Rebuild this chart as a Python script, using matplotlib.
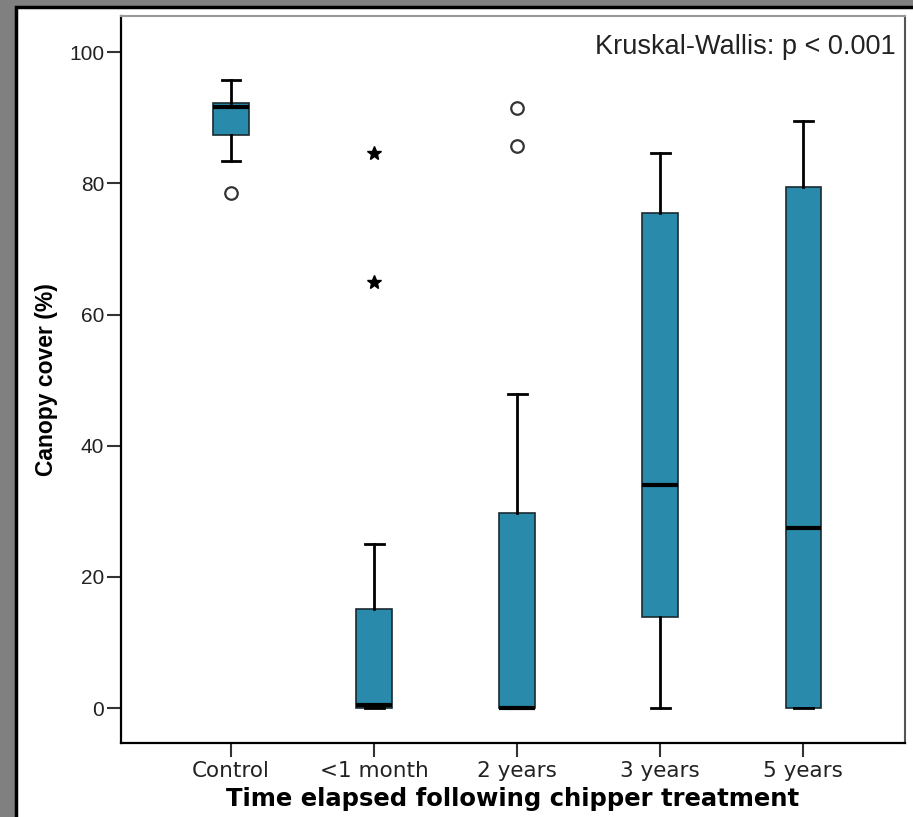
import matplotlib
matplotlib.use('Agg')
import matplotlib.pyplot as plt
from matplotlib.patches import Rectangle

groups = ['Control', '<1 month', '2 years', '3 years', '5 years']
whislo = [83.4, 0.0, 0.0, 0.0, 0.0]
q1 = [87.3, 0.0, 0.0, 13.9, 0.0]
med = [91.6, 0.5, 0.0, 34.0, 27.4]
q3 = [92.2, 15.1, 29.7, 75.5, 79.4]
whishi = [95.7, 25.0, 47.9, 84.6, 89.5]
# outliers (circles) and extremes (stars)
outliers = [[78.5], [], [91.5, 85.7], [], []]
extremes = [[], [84.6, 64.9], [], [], []]

box_color = '#2a8aac'

fig = plt.figure(figsize=(9.13, 8.17), dpi=100, facecolor='#808080')
# white panel with black frame
fig.patches.append(Rectangle((15.5 / 913, -0.01), 1.0, 1 - 7 / 817 + 0.01,
                             transform=fig.transFigure, facecolor='white',
                             edgecolor='black', linewidth=2.5, zorder=-5))

ax = fig.add_axes([121 / 913, 1 - 743 / 817, 784 / 913, 727 / 817])
ax.set_zorder(2)

stats = []
for i, g in enumerate(groups):
    stats.append({'label': g, 'whislo': whislo[i], 'q1': q1[i], 'med': med[i],
                  'q3': q3[i], 'whishi': whishi[i], 'fliers': outliers[i]})

ax.bxp(stats, positions=range(len(groups)), widths=0.25, capwidths=0.13,
       patch_artist=True, showfliers=True,
       boxprops=dict(facecolor=box_color, edgecolor='#1a2a30', linewidth=1.2),
       medianprops=dict(color='black', linewidth=3),
       whiskerprops=dict(color='black', linewidth=2),
       capprops=dict(color='black', linewidth=2),
       flierprops=dict(marker='o', markerfacecolor='white', markeredgecolor='#333333',
                       markersize=9, markeredgewidth=1.6))

for i, vals in enumerate(extremes):
    if vals:
        ax.plot([i] * len(vals), vals, linestyle='none', marker='*', color='black',
                markersize=10)

ax.set_xlim(-0.77, 4.71)
ax.set_ylim(-5.3, 105.5)
ax.set_yticks([0, 20, 40, 60, 80, 100])
ax.set_xticks(range(len(groups)))
ax.set_xticklabels(groups, fontsize=15.5, family='DejaVu Sans', color='#222222')
for t in ax.get_yticklabels():
    t.set_fontsize(15)
    t.set_family('Liberation Sans')
    t.set_color('#222222')
ax.tick_params(axis='y', length=10, width=1.5, pad=2, color='#333333')
ax.tick_params(axis='x', length=10, width=1.5, pad=3, color='#333333')

for side in ['left', 'bottom']:
    ax.spines[side].set_linewidth(1.6)
    ax.spines[side].set_color('black')
ax.spines['top'].set_color('#999999')
ax.spines['top'].set_linewidth(1.5)
ax.spines['right'].set_color('#555555')
ax.spines['right'].set_linewidth(1.5)

ax.set_ylabel('Canopy cover (%)', fontsize=16.5, fontweight='bold',
              family='Liberation Sans', labelpad=8)
ax.set_xlabel('Time elapsed following chipper treatment', fontsize=17.5,
              fontweight='bold', family='DejaVu Sans', labelpad=4)

ax.text(0.988, 0.975, 'Kruskal-Wallis: p < 0.001', transform=ax.transAxes,
        ha='right', va='top', fontsize=19.5, family='Liberation Sans', color='#222222')

fig.savefig('out.png', dpi=100, facecolor=fig.get_facecolor())
